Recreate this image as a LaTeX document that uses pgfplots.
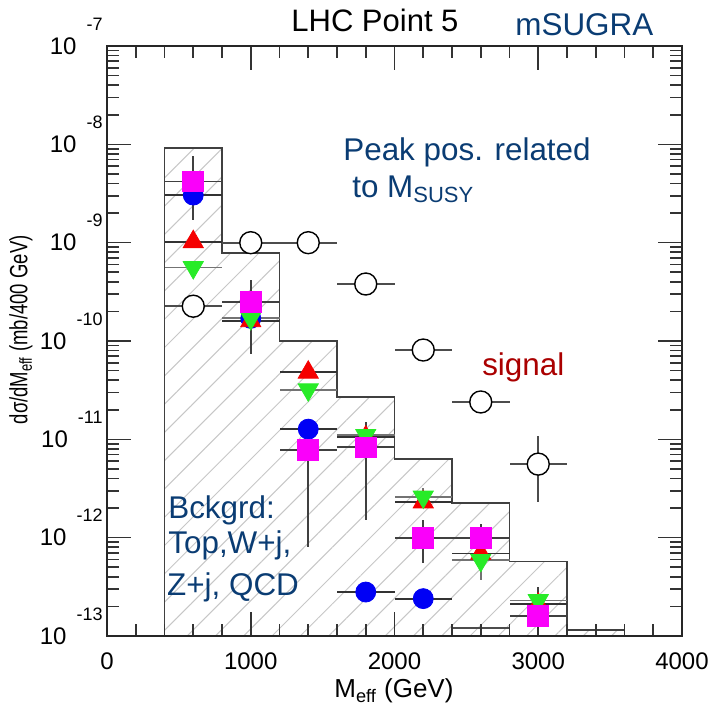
\documentclass[border=0pt]{standalone}
\usepackage{fontspec}
\setmainfont{Liberation Sans}
\usepackage{graphicx}
\usepackage{pgfplots}
\pgfplotsset{compat=1.18}
\usetikzlibrary{patterns.meta}
\definecolor{txtblue}{RGB}{10,60,115}
\definecolor{sigred}{RGB}{170,0,0}
\definecolor{mgreen}{RGB}{40,235,40}
\definecolor{mmag}{RGB}{250,0,250}
\definecolor{mblue}{RGB}{0,0,245}
\definecolor{mred}{RGB}{245,0,0}
\newcommand{\ylab}[1]{10\hspace{5pt}\smash{\raisebox{12pt}{\fontsize{9}{9}\selectfont #1}}}
\newcommand{\annot}{\fontsize{15.7}{18}\selectfont}
\begin{document}
\begin{tikzpicture}
\begin{axis}[
  scale only axis, width=287.5pt, height=295pt,
  ymode=log, xmin=0, xmax=4000, ymin=1e-13, ymax=1e-7,
  xtick={0,1000,2000,3000,4000},
  xticklabels={0,1000,2000,3000,4000},
  minor x tick num=4,
  ytick={1e-13,1e-12,1e-11,1e-10,1e-9,1e-8,1e-7},
  yticklabels={\ylab{-13},\ylab{-12},\ylab{-11},\ylab{-10},\ylab{-9},\ylab{-8},\ylab{-7}},
  tick align=inside,
  major tick length=12pt, minor tick length=6pt,
  tick style={black!80, line width=0.8pt},
  axis line style={black!85, line width=1pt},
  xticklabel style={font=\fontsize{12}{12}\selectfont, inner sep=0pt, yshift=-8pt},
  yticklabel style={font=\fontsize{12}{12}\selectfont, inner sep=0pt, anchor=east, xshift=-2pt},
  axis on top,
  clip=false,
]
% background histogram
\addplot[draw=black!75, line width=0.8pt,
  pattern={Lines[angle=45,distance=10pt,line width=0.5pt]}, pattern color=black!22]
  coordinates {(400,1e-13)(400,9.2e-9)(800,9.2e-9)(800,7.8e-10)(1200,7.8e-10)(1200,1e-10)
  (1600,1e-10)(1600,2.7e-11)(2000,2.7e-11)(2000,6.3e-12)(2400,6.3e-12)(2400,2.26e-12)
  (2800,2.26e-12)(2800,5.7e-13)(3200,5.7e-13)(3200,1.15e-13)(3600,1.15e-13)(3600,1e-13)} -- cycle;

% extra error bar near bottom
\addplot[black!70, line width=0.9pt, mark=none] coordinates {(2400,1.2e-13)(2800,1.2e-13)};
\addplot[black!70, line width=0.9pt, mark=none] coordinates {(2600,1e-13)(2600,1.32e-13)};

% signal (open circles)
\addplot[only marks, mark=*, mark size=5.5pt,
  mark options={fill=white, draw=black, line width=0.7pt},
  error bars/.cd, x dir=both, x fixed=200, y dir=both, y explicit, error mark=none,
  error bar style={black!70, line width=0.9pt}]
  coordinates {
  (600,2.26e-10) (1000,1e-9) (1400,1e-9) (1800,3.8e-10) (2200,8.1e-11) (2600,2.4e-11)
  (3000,5.6e-12) += (0,5.1e-12) -= (0,3.3e-12)
  };

% blue circles
\addplot[only marks, mark=*, mark size=5pt, mark options={fill=mblue, draw=mblue},
  error bars/.cd, x dir=both, x fixed=200, y dir=both, y explicit, error mark=none,
  error bar style={black!80, line width=0.9pt}]
  coordinates {
  (600,3.05e-9) (1000,1.7e-10) (1400,1.27e-11) (1800,2.8e-13) (2200,2.4e-13)
  };

% red triangles
\addplot[only marks, mark=triangle*, mark size=5.8pt, mark options={fill=mred, draw=mred},
  error bars/.cd, x dir=both, x fixed=200, y dir=both, y explicit, error mark=none,
  error bar style={black!80, line width=0.9pt}]
  coordinates {
  (600,1.02e-9) (1000,1.6e-10) (1400,4.8e-11) (1800,1.05e-11) (2200,2.3e-12) (2600,6.9e-13) (3000,2.1e-13)
  };

% green down triangles
\addplot[only marks, mark=triangle*, mark size=5.8pt,
  mark options={fill=mgreen, draw=mgreen, rotate=180},
  error bars/.cd, x dir=both, x fixed=200, y dir=both, y explicit, error mark=none,
  error bar style={black!55, line width=0.9pt}]
  coordinates {
  (600,5.6e-10) (1000,1.7e-10) (1400,3.2e-11) (1800,1.1e-11)
  (2200,2.6e-12) += (0,0.6e-12) -= (0,0.3e-12)
  (2600,5.9e-13) += (0,0) -= (0,2.2e-13)
  (3000,2.3e-13)
  };

% magenta squares
\addplot[only marks, mark=square*, mark size=5.2pt, mark options={fill=mmag, draw=mmag},
  error bars/.cd, x dir=both, x fixed=200, y dir=both, y explicit, error mark=none,
  error bar style={black!75, line width=0.9pt}]
  coordinates {
  (600,4.2e-9) += (0,3.4e-9) -= (0,2.5e-9)
  (1000,2.5e-10) += (0,1.7e-10) -= (0,1.77e-10)
  (1400,7.8e-12) += (0,5.2e-12) -= (0,7.0e-12)
  (1800,8.3e-12) += (0,6.7e-12) -= (0,6.8e-12)
  (2200,1.0e-12) += (0,0.5e-12) -= (0,0.45e-12)
  (2600,1.0e-12) += (0,0.38e-12) -= (0,0)
  (3000,1.6e-13) += (0,1.56e-13) -= (0,0.5e-13)
  };

% texts
\node[anchor=base, font=\fontsize{15.5}{18}\selectfont] at (rel axis cs:0.466,1.024) {LHC Point 5};
\node[anchor=base west, font=\annot, text=txtblue, inner sep=0pt] at (rel axis cs:0.7096,1.0186) {mSUGRA};
\node[anchor=base west, font=\annot, text=txtblue, inner sep=0pt] at (rel axis cs:0.4104,0.8068) {Peak pos. related};
\node[anchor=base west, font=\annot, text=txtblue, inner sep=0pt] at (rel axis cs:0.426,0.744) {to M\textsubscript{SUSY}};
\node[anchor=base west, font=\annot, text=sigred, inner sep=0pt] at (rel axis cs:0.652,0.4424) {signal};
\node[anchor=base west, font=\annot, text=txtblue, inner sep=0pt] at (rel axis cs:0.106,0.2) {Bckgrd:};
\node[anchor=base west, font=\annot, text=txtblue, inner sep=0pt] at (rel axis cs:0.106,0.1407) {Top,W+j,};
\node[anchor=base west, font=\annot, text=txtblue, inner sep=0pt] at (rel axis cs:0.104,0.0695) {Z+j, QCD};
\node[rotate=90, font=\fontsize{12.5}{14}\selectfont, inner sep=0pt] at (rel axis cs:-0.1496,0.519) {\scalebox{0.74}[1]{dσ/dM\textsubscript{eff} (mb/400 GeV)}};
\node[anchor=base, font=\fontsize{13}{14}\selectfont, inner sep=0pt] at (rel axis cs:0.499,-0.105) {M\textsubscript{eff} (GeV)};
% fix picture size
\path (rel axis cs:-0.18609,-0.12542) rectangle (rel axis cs:1.0487,1.07797);
\end{axis}
\end{tikzpicture}
\end{document}
